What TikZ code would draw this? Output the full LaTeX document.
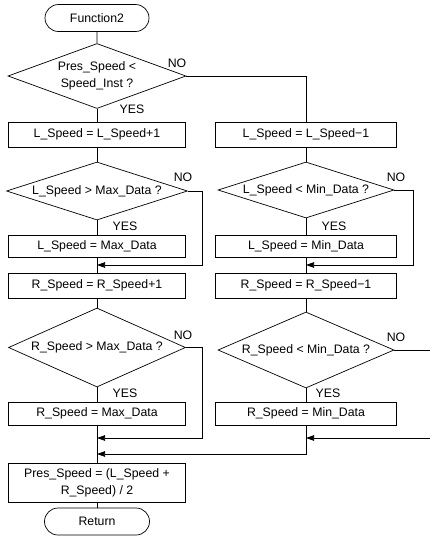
\documentclass[tikz,border=0pt]{standalone}
\usepackage{fontspec}
\setmainfont{Liberation Sans}
\usetikzlibrary{positioning, arrows.meta, shapes.geometric, shapes.misc}

\begin{document}
\begin{tikzpicture}[
        x = 1pt, y = -1pt,
        every node/.style = {
            font = \fontsize{12.3}{17}\selectfont,
            inner sep = 0pt
        },
        flow/.style = {draw, line width = 0.7pt},
        terminal/.style = {
            flow,
            rounded rectangle,
            minimum width = 104pt,
            minimum height = 27pt
        },
        process/.style = {
            flow,
            rectangle,
            align = center,
            minimum width = 178pt,
            minimum height = 25pt
        },
        decision/.style = {
            flow,
            diamond,
            minimum width = 178pt,
            minimum height = 60pt
        },
        answer/.style = {inner sep = 1pt},
        merge/.style = {-{Triangle[length = 8pt, width = 5.5pt]}}
    ]
        \useasboundingbox (0,0) rectangle (430,542);

        % left column
        \node[terminal] (start) at (97,18) {Function2};
        \node[decision, minimum height = 65pt,
            label = {[align = center]center:Pres\_Speed <\\Speed\_Inst ?}] (cmp) at (97,76) {};
        \node[process, minimum width = 177pt] (incL) at (97,134.5) {L\_Speed = L\_Speed+1};
        \node[decision, minimum width = 181pt, minimum height = 58pt,
            label = center:L\_Speed > Max\_Data ?] (maxL) at (97,191) {};
        \node[process, minimum width = 177pt, minimum height = 22pt] (setMaxL) at (97,246) {L\_Speed = Max\_Data};
        \node[process, minimum width = 177pt] (incR) at (97,285.5) {R\_Speed = R\_Speed+1};
        \node[decision, minimum width = 177pt, minimum height = 79pt,
            label = center:R\_Speed > Max\_Data ?] (maxR) at (97,347.5) {};
        \node[process, minimum width = 177pt, minimum height = 23pt] (setMaxR) at (97,413.5) {R\_Speed = Max\_Data};
        \node[process, minimum width = 177pt, minimum height = 39pt] (avg) at (97,482.5) {Pres\_Speed = (L\_Speed +\\R\_Speed) / 2};
        \node[terminal, minimum width = 105pt] (stop) at (97,521.5) {Return};

        % right column
        \node[process, minimum width = 181pt] (decL) at (306,134.5) {L\_Speed = L\_Speed−1};
        \node[decision, minimum width = 176pt, minimum height = 56pt,
            label = center:L\_Speed < Min\_Data ?] (minL) at (306,190) {};
        \node[process, minimum width = 181pt, minimum height = 22pt] (setMinL) at (306,246) {L\_Speed = Min\_Data};
        \node[process, minimum width = 181pt] (decR) at (306,285.5) {R\_Speed = R\_Speed−1};
        \node[decision, minimum width = 176pt, minimum height = 76pt,
            label = center:R\_Speed < Min\_Data ?] (minR) at (306,350) {};
        \node[process, minimum width = 181pt, minimum height = 23pt] (setMinR) at (306,413.5) {R\_Speed = Min\_Data};

        % merge points
        \coordinate (joinL1) at (97,265);
        \coordinate (joinL2) at (97,438);
        \coordinate (joinL3) at (97,454);
        \coordinate (joinR1) at (306,265);
        \coordinate (joinR2) at (306,438);
        \coordinate (sideL1) at (202,265);
        \coordinate (sideL2) at (202,438);
        \coordinate (sideR1) at (413,265);
        \coordinate (exitR) at (430,350);
        \coordinate (backR) at (430,438);

        % main flow
        \draw[flow] (start) -- (cmp);
        \draw[flow] (cmp) -- (incL);
        \draw[flow] (incL) -- (maxL);
        \draw[flow] (maxL) -- (setMaxL);
        \draw[flow] (setMaxL) -- (incR);
        \draw[flow] (incR) -- (maxR);
        \draw[flow] (maxR) -- (setMaxR);
        \draw[flow] (setMaxR) -- (avg);
        \draw[flow] (avg) -- (stop);
        \draw[flow] (cmp.east) -| (decL.north);
        \draw[flow] (decL) -- (minL);
        \draw[flow] (minL) -- (setMinL);
        \draw[flow] (setMinL) -- (decR);
        \draw[flow] (decR) -- (minR);
        \draw[flow] (minR) -- (setMinR);

        % NO branches
        \draw[flow, merge] (maxL.east) -| (sideL1) -- (joinL1);
        \draw[flow, merge] (maxR.east) -| (sideL2) -- (joinL2);
        \draw[flow, merge] (minL.east) -| (sideR1) -- (joinR1);
        \draw[flow] (minR.east) -- (exitR);
        \draw[flow, merge] (backR) -- (joinR2);
        \draw[flow, merge] (setMinR.south) |- (joinL3);

        % answers
        \node[answer] (noCmp) at (177,63) {NO};
        \node[answer] (yesCmp) at (132,109) {YES};
        \node[answer] (noMaxL) at (183,177) {NO};
        \node[answer] (yesMaxL) at (125,226) {YES};
        \node[answer] (noMaxR) at (183,335) {NO};
        \node[answer] (yesMaxR) at (125,393) {YES};
        \node[answer] (noMinL) at (396,177) {NO};
        \node[answer] (yesMinL) at (334,226) {YES};
        \node[answer] (noMinR) at (396,337) {NO};
        \node[answer] (yesMinR) at (328,393) {YES};
\end{tikzpicture}
\end{document}
